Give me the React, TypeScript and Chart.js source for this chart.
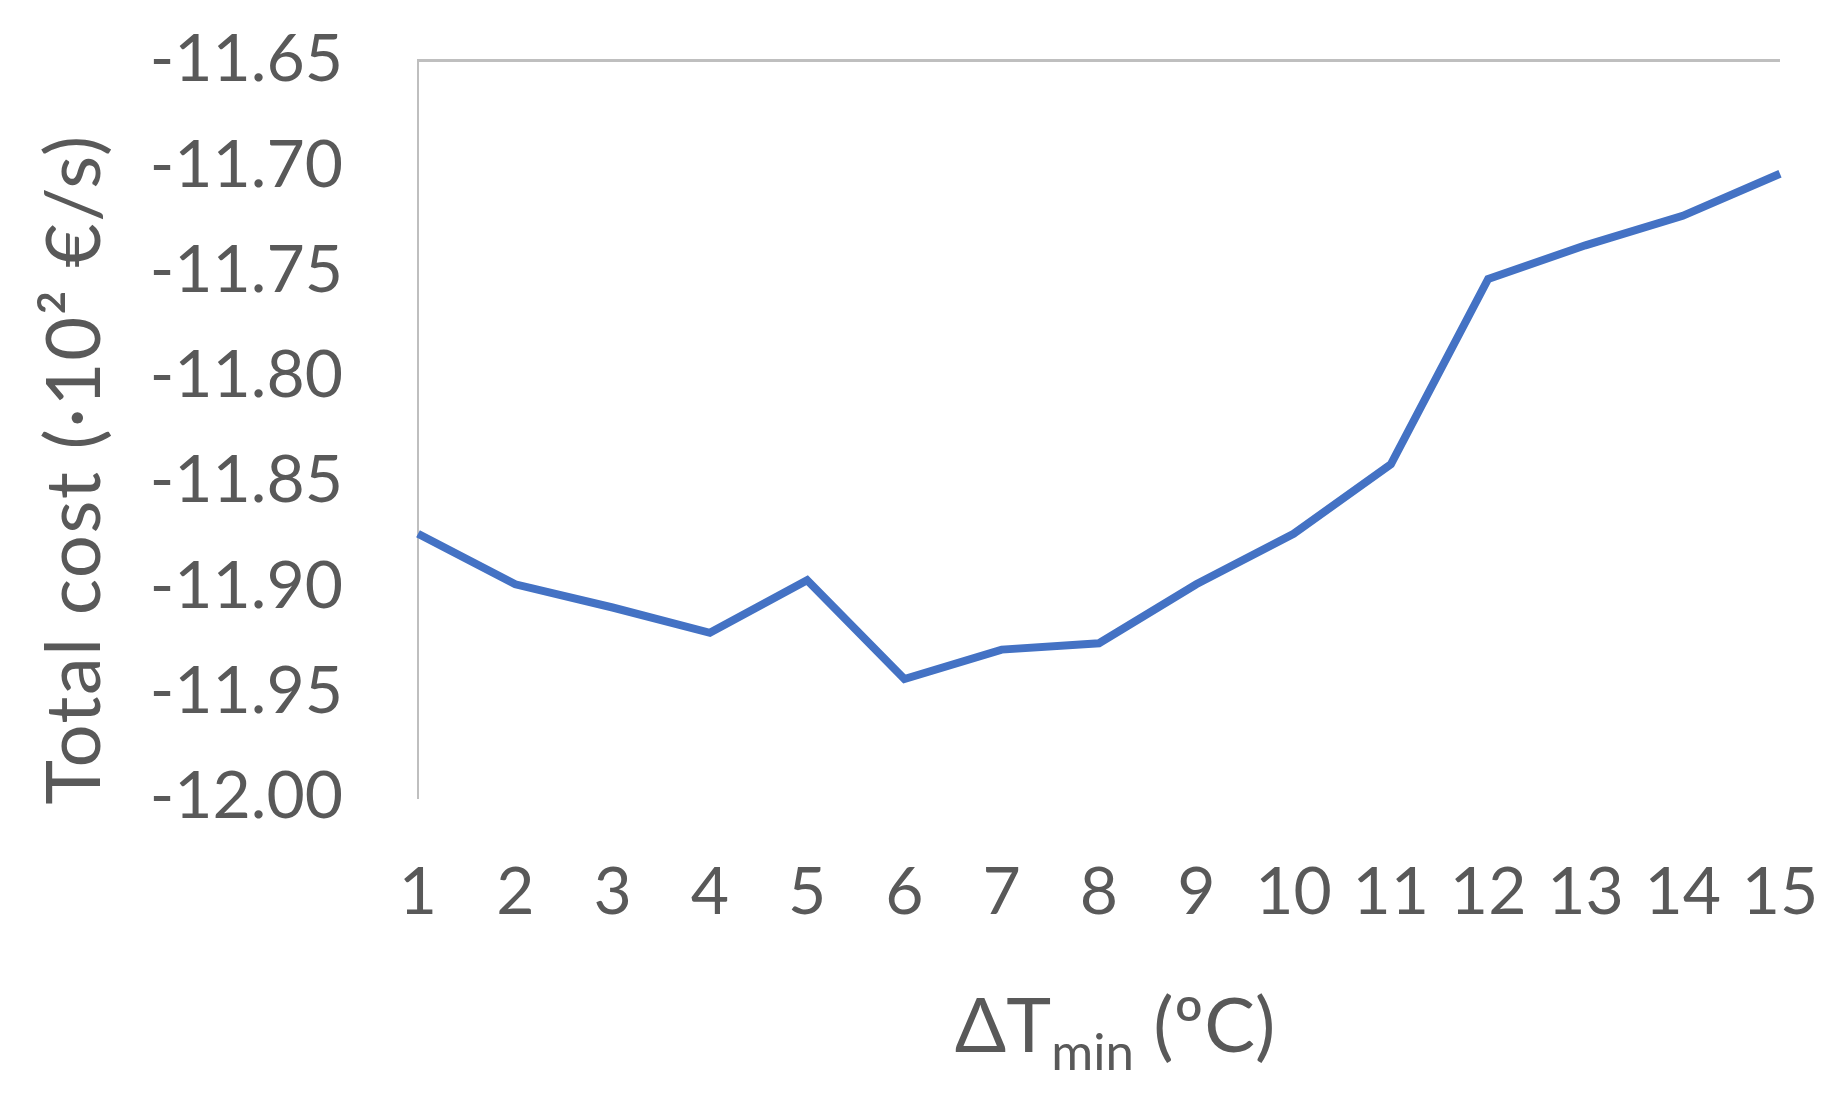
import React, { useEffect, useRef } from "react";
import { Chart, registerables } from "chart.js";

Chart.register(...registerables);

// ---- data ----
const categories = ["1", "2", "3", "4", "5", "6", "7", "8", "9", "10", "11", "12", "13", "14", "15"];
const totalCost = [
  -11.875, -11.899, -11.91, -11.922, -11.897, -11.944, -11.93, -11.927,
  -11.899, -11.875, -11.842, -11.754, -11.738, -11.724, -11.704,
];
const yTickValues = [-12.0, -11.95, -11.9, -11.85, -11.8, -11.75, -11.7, -11.65];
const xTitleMain = "ΔT";
const xTitleSub = "min";
const xTitleTail = " (ºC)";
const yTitleText = "Total cost (·10² €/s)";

const TEXT = "#595959";
const AXIS = "#bfbfbf";
const LINE = "#4472C4";
const FONT = "Lato, 'Open Sans', sans-serif";

const titlesPlugin = {
  id: "axisTitles",
  afterDraw(chart: any) {
    const ctx = chart.ctx as any;
    const ca = chart.chartArea;
    ctx.save();
    ctx.fillStyle = TEXT;
    ctx.textBaseline = "alphabetic";
    ctx.textAlign = "left";
    // X title with subscript
    const mainF = `76px ${FONT}`;
    const subF = `51px ${FONT}`;
    ctx.font = mainF;
    const w1 = ctx.measureText(xTitleMain).width;
    const w3 = ctx.measureText(xTitleTail).width;
    ctx.font = subF;
    const w2 = ctx.measureText(xTitleSub).width;
    const cx = (ca.left + ca.right) / 2 + 16;
    const by = ca.bottom + 255;
    let x = cx - (w1 + w2 + w3) / 2;
    ctx.font = mainF;
    ctx.fillText(xTitleMain, x, by);
    x += w1;
    ctx.font = subF;
    ctx.fillText(xTitleSub, x, by + 18);
    x += w2;
    ctx.font = mainF;
    ctx.fillText(xTitleTail, x, by);

    // Y title rotated
    ctx.font = mainF;
    ctx.letterSpacing = "1.5px";
    const cy = (ca.top + ca.bottom) / 2 + 41;
    ctx.translate(ca.left - 318, cy);
    ctx.rotate(-Math.PI / 2);
    ctx.textAlign = "center";
    ctx.fillText(yTitleText, 0, 0);
    ctx.restore();
  },
};

export default function App() {
  const ref = useRef<HTMLCanvasElement | null>(null);

  useEffect(() => {
    if (!ref.current) return;
    const chart = new Chart(ref.current, {
      type: "line",
      data: {
        labels: categories,
        datasets: [
          {
            data: totalCost,
            borderColor: LINE,
            borderWidth: 8,
            pointRadius: 0,
            tension: 0,
            fill: false,
          },
        ],
      },
      options: {
        responsive: false,
        animation: false,
        maintainAspectRatio: false,
        layout: { autoPadding: false, padding: { top: 60, right: 68, left: 0, bottom: 0 } },
        plugins: { legend: { display: false }, tooltip: { enabled: false }, title: { display: false } },
        scales: {
          x: {
            type: "category",
            offset: false,
            border: { display: false },
            grid: { display: false, drawTicks: false },
            ticks: {
              color: TEXT,
              font: { family: FONT, size: 66 },
              padding: 56,
              maxRotation: 0,
              autoSkip: false,
            },
            afterFit(scale: any) {
              scale.height = 1104 - 797;
              scale.paddingLeft = 0;
              scale.paddingRight = 0;
            },
          },
          y: {
            min: -12.0,
            max: -11.65,
            border: { display: true, color: AXIS, width: 2 },
            grid: {
              drawTicks: false,
              lineWidth: 3,
              color: (c: any) => (c.tick && Math.abs(c.tick.value - -11.65) < 1e-6 ? AXIS : "rgba(0,0,0,0)"),
            },
            afterBuildTicks(scale: any) {
              scale.ticks = yTickValues.map((v) => ({ value: v }));
            },
            ticks: {
              color: TEXT,
              font: { family: FONT, size: 66 },
              padding: 75,
              callback: (v: any) => Number(v).toFixed(2),
            },
            afterFit(scale: any) {
              scale.width = 418;
              scale.paddingTop = 0;
              scale.paddingBottom = 0;
            },
          },
        },
      },
      plugins: [titlesPlugin],
    });
    return () => chart.destroy();
  }, []);

  return (
    <div style={{ position: "absolute", left: 0, top: 0, width: 1848, height: 1104, background: "#fff" }}>
      <canvas ref={ref} width={1848} height={1104} style={{ width: 1848, height: 1104, display: "block" }} />
    </div>
  );
}
